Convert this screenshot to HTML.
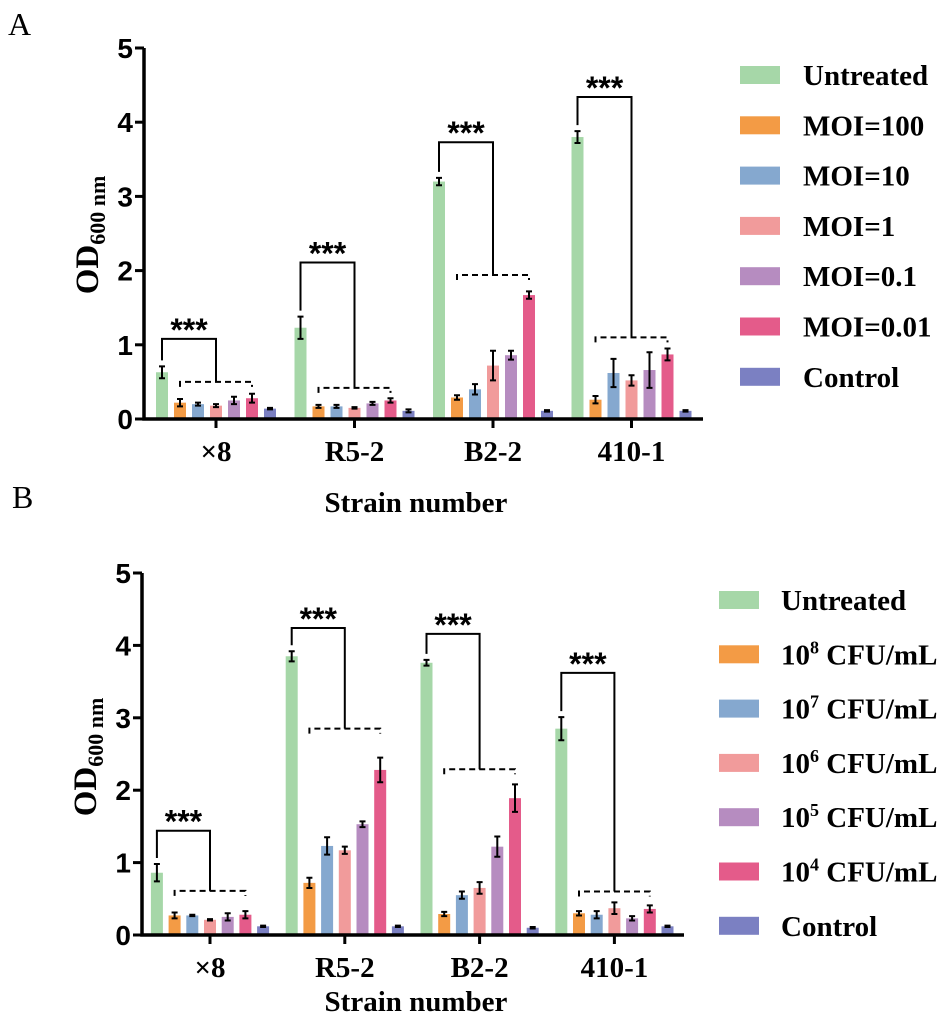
<!DOCTYPE html>
<html><head><meta charset="utf-8"><style>
body{margin:0;background:#fff;}
svg text{font-family:"Liberation Serif",serif;}
.tick{font-family:"Liberation Sans",sans-serif;font-weight:bold;font-size:28px;}
.lab{font-weight:bold;font-size:29px;}
.leg{font-weight:bold;font-size:29px;}
.star{font-family:"Liberation Sans",sans-serif;font-weight:bold;font-size:32px;}
</style></head><body>
<svg id="chart" width="945" height="1020" xmlns="http://www.w3.org/2000/svg">
<text x="8" y="35" font-size="32">A</text>
<text x="12" y="508" font-size="32">B</text>
</svg>
<script>
const categories = ["×8","R5-2","B2-2","410-1"];
const colors = ["#a6d7a8","#f39b45","#85a8cf","#f19b9b","#b68cc0","#e45b8a","#7b80c2"];
const legendA = ["Untreated","MOI=100","MOI=10","MOI=1","MOI=0.1","MOI=0.01","Control"];
const legendBexp = ["", "8","7","6","5","4",""];
const valuesA = [
 [0.63,0.22,0.20,0.18,0.25,0.28,0.14],
 [1.23,0.17,0.17,0.15,0.21,0.25,0.11],
 [3.20,0.29,0.40,0.72,0.86,1.67,0.11],
 [3.80,0.26,0.62,0.52,0.66,0.87,0.11]];
const errorsA = [
 [0.08,0.05,0.02,0.02,0.05,0.06,0.01],
 [0.15,0.02,0.02,0.01,0.02,0.03,0.02],
 [0.05,0.03,0.07,0.20,0.06,0.05,0.01],
 [0.08,0.05,0.19,0.07,0.24,0.08,0.01]];
const valuesB = [
 [0.86,0.27,0.27,0.21,0.25,0.28,0.12],
 [3.85,0.72,1.23,1.17,1.53,2.28,0.12],
 [3.76,0.29,0.55,0.65,1.22,1.89,0.10],
 [2.85,0.30,0.28,0.37,0.23,0.36,0.12]];
const errorsB = [
 [0.12,0.04,0.01,0.01,0.05,0.05,0.01],
 [0.07,0.07,0.12,0.05,0.04,0.17,0.01],
 [0.04,0.03,0.05,0.08,0.14,0.19,0.01],
 [0.16,0.03,0.05,0.08,0.03,0.05,0.01]];
// bracket levels: [top bracket, dashed bracket]
const bracketsA = [[1.08,0.50],[2.11,0.42],[3.73,1.94],[4.34,1.10]];
const bracketsB = [[1.44,0.61],[4.24,2.85],[4.16,2.29],[3.62,0.60]];
const yTicks = [0,1,2,3,4,5];

const svg = document.getElementById('chart');
const NS = 'http://www.w3.org/2000/svg';
function mk(tag, attrs, parent){const e=document.createElementNS(NS,tag);for(const k in attrs)e.setAttribute(k,attrs[k]);(parent||svg).appendChild(e);return e;}

function panel(p){
  const g = mk('g',{});
  
  
  const y = v => p.y0 - v*p.unit;
  const cx = i => p.c0 + i*p.gap;
  p.vals.forEach((grp,gi)=>{
    grp.forEach((v,si)=>{
      const x = cx(gi) + (si-3)*p.step - p.bw/2;
      const r = mk('rect',{x:x,y:y(v),width:p.bw,height:y(0)-y(v),fill:colors[si]},g);
      
      
      const e = p.errs[gi][si], xm = x+p.bw/2;
      const eb = mk('path',{d:`M${xm} ${y(v+e)}V${y(v-e)}M${xm-3} ${y(v+e)}h6M${xm-3} ${y(v-e)}h6`,stroke:'#000','stroke-width':2,fill:'none'},g);
      
      
    });
    const b = p.br[gi];
    const gx = cx(gi), x0 = gx-3*p.step, xo = gx-2*p.step, xe = gx+2*p.step;
    const startY = y(grp[0]+p.errs[gi][0]) - 6;
    const br = mk('path',{d:`M${x0} ${startY}V${y(b[0])}H${gx}V${y(b[1])}`,stroke:'#000','stroke-width':2,fill:'none'},g);
    
    
    const db = mk('path',{d:`M${xo} ${y(b[1])+5}V${y(b[1])}H${xe}V${y(b[1])+5}`,stroke:'#000','stroke-width':2,fill:'none','stroke-dasharray':'6,4'},g);
    
    
    const st = mk('text',{x:(x0+gx)/2,y:y(b[0])+2,'text-anchor':'middle',class:'star'},g);
    st.textContent='***';
    
    
    mk('line',{x1:gx,x2:gx,y1:y(0),y2:y(0)+9,stroke:'#000','stroke-width':3},g);
    const xl = mk('text',{x:gx,y:p.y0+p.tly,'text-anchor':'middle',class:'lab'},g);
    xl.textContent = categories[gi];
    
    
  });
  const ax = mk('path',{d:`M${p.ax} ${y(5)}V${p.y0}H${p.xEnd}`,stroke:'#000','stroke-width':3.5,fill:'none'},g);
  
  
  yTicks.forEach(t=>{
    mk('line',{x1:p.ax-9,x2:p.ax,y1:y(t),y2:y(t),stroke:'#000','stroke-width':3},g);
    const tl = mk('text',{x:p.ax-11,y:y(t)+10,'text-anchor':'end',class:'tick'},g);
    tl.textContent = t;
    
    
  });
  const yt = mk('text',{transform:`translate(${p.ax-46},${p.ytc}) rotate(-90)`,'text-anchor':'middle','font-size':33,'font-weight':'bold'},g);
  yt.innerHTML = 'OD<tspan font-size="22" dy="7">600 nm</tspan>';
  
  
  const xt = mk('text',{x:416,y:p.y0+p.xty,'text-anchor':'middle',class:'lab'},g);
  xt.textContent='Strain number';
  
  
  colors.forEach((c,i)=>{
    const yy = p.ly0 + i*p.lstep;
    const sw = mk('rect',{x:p.lx,y:yy-9,width:40,height:18,fill:c},g);
    
    
    const t = mk('text',{x:p.lx+p.ltx,y:yy+10,class:'leg'},g);
    if(p.legB && legendBexp[i]) t.innerHTML = '10<tspan font-size="18" dy="-11">'+legendBexp[i]+'</tspan><tspan dy="11"> CFU/mL</tspan>';
    else t.textContent = legendA[i];
    
    
  });
}
panel({name:'panel-a',vals:valuesA,errs:errorsA,br:bracketsA,y0:419,unit:74.2,ax:144,xEnd:703,c0:216,gap:138.5,step:18,bw:12,ytc:235,lx:740,ly0:75,lstep:50.3,ltx:63,legB:false,tly:42,xty:93});
panel({name:'panel-b',vals:valuesB,errs:errorsB,br:bracketsB,y0:935,unit:72.4,ax:142,xEnd:684,c0:210,gap:134.8,step:17.7,bw:12,ytc:757,lx:719,ly0:600,lstep:54.3,ltx:62,legB:true,tly:42,xty:76});
</script>
</body></html>
